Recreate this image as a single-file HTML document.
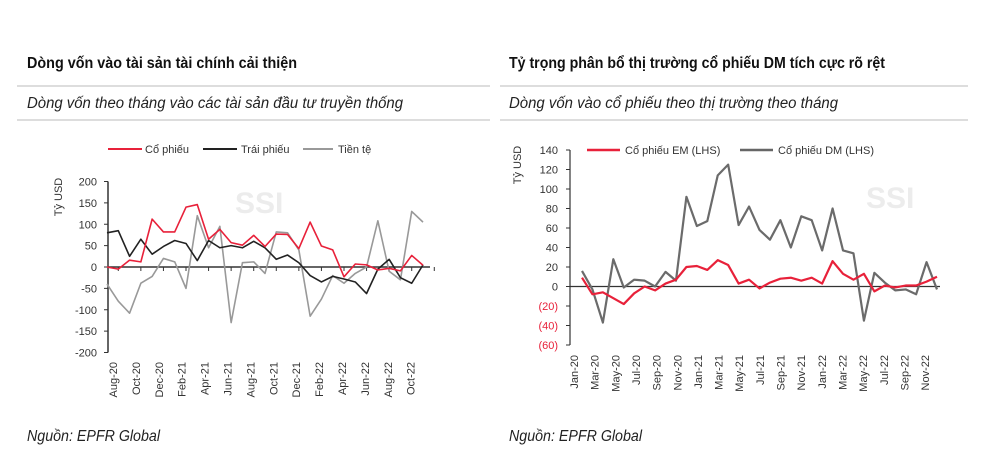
<!DOCTYPE html>
<html><head><meta charset="utf-8">
<style>
html,body{margin:0;padding:0;background:#fff;}
svg{display:block;font-family:"Liberation Sans Narrow","Liberation Sans",sans-serif;}
</style></head>
<body>
<svg id="s" width="1000" height="457" viewBox="0 0 1000 457" xmlns="http://www.w3.org/2000/svg">
<rect width="1000" height="457" fill="#fff"/>
<g font-size="15.5" font-weight="bold" fill="#111">
<text x="27" y="68" textLength="270" lengthAdjust="spacingAndGlyphs">Dòng vốn vào tài sản tài chính cải thiện</text>
<text x="509" y="68" textLength="376" lengthAdjust="spacingAndGlyphs">Tỷ trọng phân bổ thị trường cổ phiếu DM tích cực rõ rệt</text>
</g>
<g stroke="#bbb" stroke-width="1">
<line x1="17" y1="86" x2="490" y2="86"/><line x1="17" y1="120" x2="490" y2="120"/>
<line x1="500" y1="86" x2="968" y2="86"/><line x1="500" y1="120" x2="968" y2="120"/>
</g>
<g font-size="15.5" font-style="italic" fill="#222">
<text x="27" y="108" textLength="376" lengthAdjust="spacingAndGlyphs">Dòng vốn theo tháng vào các tài sản đầu tư truyền thống</text>
<text x="509" y="108" textLength="329" lengthAdjust="spacingAndGlyphs">Dòng vốn vào cổ phiếu theo thị trường theo tháng</text>
<text x="27" y="441" textLength="133" lengthAdjust="spacingAndGlyphs">Nguồn: EPFR Global</text>
<text x="509" y="441" textLength="133" lengthAdjust="spacingAndGlyphs">Nguồn: EPFR Global</text>
</g>
<text x="235" y="213" font-size="30" font-weight="bold" fill="#ececec" font-family="Liberation Sans">SSI</text>
<text x="866" y="208" font-size="30" font-weight="bold" fill="#ececec" font-family="Liberation Sans">SSI</text>
<g id="L"></g><g id="R"></g>
<g font-size="11" fill="#333">
<line x1="108" y1="149" x2="142" y2="149" stroke="#e8213a" stroke-width="2"/><text x="145" y="153">Cổ phiếu</text>
<line x1="203" y1="149" x2="237" y2="149" stroke="#222" stroke-width="2"/><text x="241" y="153">Trái phiếu</text>
<line x1="303" y1="149" x2="333" y2="149" stroke="#999" stroke-width="2"/><text x="338" y="153">Tiền tệ</text>
<line x1="587" y1="150" x2="620" y2="150" stroke="#e8213a" stroke-width="2.5"/><text x="625" y="154">Cổ phiếu EM (LHS)</text>
<line x1="740" y1="150" x2="773" y2="150" stroke="#666" stroke-width="2.5"/><text x="778" y="154">Cổ phiếu DM (LHS)</text>
<text transform="translate(62,197) rotate(-90)" text-anchor="middle">Tỷ USD</text>
<text transform="translate(521,165) rotate(-90)" text-anchor="middle">Tỷ USD</text>
</g>
</svg>
<script>
var NS="http://www.w3.org/2000/svg";
function el(p,t,a,txt){var e=document.createElementNS(NS,t);for(var k in a)e.setAttribute(k,a[k]);if(txt!==undefined)e.textContent=txt;p.appendChild(e);return e;}
var L=document.getElementById("L");
var x0=107,st=(423-107)/28,yz=267,k=0.4275;
function ly(v){return yz-v*k;}
var red=[0,-5,16,12,112,82,82,140,146,65,88,57,51,74,48,77,76,43,105,49,40,-23,7,5,-7,-3,-9,27,4];
var blk=[80,85,25,65,30,48,62,55,15,62,45,50,45,60,45,18,28,10,-20,-35,-22,-28,-35,-62,-5,18,-25,-38,5];
var gry=[-40,-80,-108,-38,-22,20,12,-50,120,45,95,-130,10,12,-15,82,80,40,-115,-75,-20,-38,-15,0,108,-10,-30,130,105];
for(var v=-200;v<=200;v+=50){el(L,"text",{x:97,y:ly(v)+4,"text-anchor":"end","font-size":"11",fill:"#333"},String(v));el(L,"line",{x1:104,x2:108,y1:ly(v),y2:ly(v),stroke:"#333"});}
el(L,"line",{x1:108,x2:108,y1:ly(200),y2:ly(-200),stroke:"#333","stroke-width":1.5});
el(L,"line",{x1:108,x2:430,y1:yz,y2:yz,stroke:"#333","stroke-width":1.5});
for(var i=0;i<=28;i+=2){var tx=x0+(i+1)*st;el(L,"line",{x1:tx,x2:tx,y1:yz,y2:yz+4,stroke:"#333"});}
var ml=["Aug-20","Oct-20","Dec-20","Feb-21","Apr-21","Jun-21","Aug-21","Oct-21","Dec-21","Feb-22","Apr-22","Jun-22","Aug-22","Oct-22"];
ml.forEach(function(m,j){var cx=113+j*22.9;el(L,"text",{transform:"translate("+(cx+4)+",362) rotate(-90)","text-anchor":"end","font-size":"11",fill:"#333"},m);});
function pl(g,d,f,c,w){el(g,"polyline",{points:d.map(function(v,i){return f(i)+","+v;}).join(" "),fill:"none",stroke:c,"stroke-width":w,"stroke-linejoin":"round"});}
pl(L,gry.map(ly),function(i){return x0+i*st;},"#999",1.6);
pl(L,blk.map(ly),function(i){return x0+i*st;},"#222",1.6);
pl(L,red.map(ly),function(i){return x0+i*st;},"#e8213a",1.6);
var R=document.getElementById("R");
var rx0=582,rst=355/34,rz=286.5,rk=0.975;
function ry(v){return rz-v*rk;}
var em=[9,-8,-6,-12,-18,-7,0,-4,3,7,20,21,17,27,22,3,7,-2,4,8,9,6,9,3,26,13,7,13,-5,1,-1,1,1,5,10];
var dm=[16,-3,-37,28,-1,7,6,0,15,6,92,62,67,114,125,63,82,58,48,68,40,72,68,37,80,37,34,-35,14,4,-4,-3,-8,25,-3];
for(var v=-60;v<=140;v+=20){var neg=v<0;el(R,"text",{x:558,y:ry(v)+4,"text-anchor":"end","font-size":"11",fill:neg?"#e8213a":"#333"},neg?"("+(-v)+")":String(v));el(R,"line",{x1:566,x2:570,y1:ry(v),y2:ry(v),stroke:"#333"});}
el(R,"line",{x1:570,x2:570,y1:ry(140),y2:ry(-60),stroke:"#333","stroke-width":1.2});
el(R,"line",{x1:570,x2:940,y1:rz,y2:rz,stroke:"#333","stroke-width":1.2});
var mr=["Jan-20","Mar-20","May-20","Jul-20","Sep-20","Nov-20","Jan-21","Mar-21","May-21","Jul-21","Sep-21","Nov-21","Jan-22","Mar-22","May-22","Jul-22","Sep-22","Nov-22"];
mr.forEach(function(m,j){var cx=574+j*20.65;el(R,"text",{transform:"translate("+(cx+4)+",355) rotate(-90)","text-anchor":"end","font-size":"11",fill:"#333"},m);});
pl(R,dm.map(ry),function(i){return rx0+i*rst;},"#6b6b6b",2.2);
pl(R,em.map(ry),function(i){return rx0+i*rst;},"#e8213a",2.2);
</script>
</body></html>
